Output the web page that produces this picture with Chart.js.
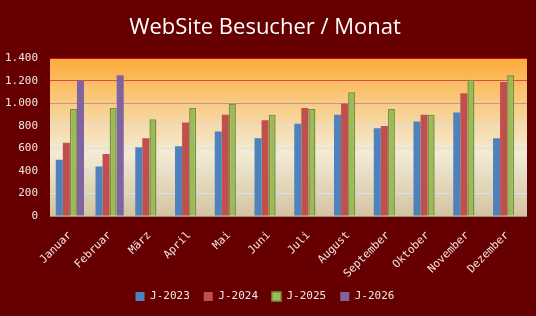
<!DOCTYPE html>
<html>
<head>
<meta charset="utf-8">
<script src="https://cdn.jsdelivr.net/npm/chart.js@4/dist/chart.umd.min.js"></script>
<style>
  html, body { margin: 0; padding: 0; background: #660000; }
  #wrap { width: 536px; height: 316px; }
</style>
</head>
<body>
<div id="wrap"><canvas id="bar-chart"></canvas></div>
<script>
const monate = ["Januar","Februar","März","April","Mai","Juni","Juli","August","September","Oktober","November","Dezember"];
const j2023 = [500,440,610,620,750,690,820,900,780,840,920,690];
const j2024 = [650,550,690,830,900,850,960,1000,800,900,1090,1190];
const j2025 = [950,960,860,960,1000,900,950,1100,950,900,1210,1250];
const j2026 = [1200,1250,null,null,null,null,null,null,null,null,null,null];
const yTicks = [0,200,400,600,800,1000,1200,1400];

const monoFont = "'DejaVu Sans Mono', monospace";

function tausender(v) {
  return String(v).replace(/\B(?=(\d{3})+(?!\d))/g, ".");
}

function gitterFarbe(ctx) {
  const v = ctx.tick ? ctx.tick.value : 0;
  if (v === 1400) return "#c8101c";
  if (v === 1200) return "#d24a52";
  if (v === 1000) return "#c49494";
  if (v === 0) return "#9c8a74";
  return "#d8e0f0";
}

const hintergrund = {
  id: "hintergrund",
  beforeDraw(chart) {
    const {ctx, chartArea: a} = chart;
    ctx.save();
    ctx.fillStyle = "#660000";
    ctx.fillRect(0, 0, chart.width, chart.height);
    const g = ctx.createLinearGradient(0, a.top, 0, a.bottom);
    g.addColorStop(0, "#fdab38");
    g.addColorStop(0.18, "#fbc068");
    g.addColorStop(0.45, "#f6dcae");
    g.addColorStop(0.6, "#f3ebd4");
    g.addColorStop(1, "#d3c3a2");
    ctx.fillStyle = g;
    ctx.fillRect(a.left, a.top, a.right - a.left, a.bottom - a.top);
    ctx.restore();
  }
};

const contenedor = document.querySelector("#bar-chart").getContext("2d");

const chart = new Chart(contenedor, {
  type: "bar",
  data: {
    labels: monate,
    datasets: [
      { label: "J-2023", data: j2023, backgroundColor: "#4f81bd", borderWidth: 0 },
      { label: "J-2024", data: j2024, backgroundColor: "#c0504d", borderWidth: 0 },
      { label: "J-2025", data: j2025, backgroundColor: "#9bbb59", borderColor: "#76923c", borderWidth: 1.5 },
      { label: "J-2026", data: j2026, backgroundColor: "#8064a2", borderWidth: 0 }
    ]
  },
  options: {
    responsive: true,
    maintainAspectRatio: false,
    animation: false,
    layout: { padding: { left: 3, right: 9, top: 4, bottom: 4 } },
    datasets: { bar: { categoryPercentage: 0.71, barPercentage: 1.0 } },
    plugins: {
      title: {
        display: true,
        text: "WebSite Besucher / Monat",
        color: "#ffffff",
        font: { family: "'Open Sans', sans-serif", size: 22, weight: "normal" },
        padding: { top: 11, bottom: 17 }
      },
      legend: {
        position: "bottom",
        labels: {
          color: "#f4e4e4",
          boxWidth: 9,
          boxHeight: 9,
          padding: 14,
          font: { family: monoFont, size: 11 }
        }
      },
      tooltip: { enabled: false }
    },
    scales: {
      x: {
        grid: { display: false, drawTicks: false },
        border: { display: false },
        afterFit(axis) { axis.paddingLeft = 0; axis.height = 61; },
        ticks: {
          color: "#f4e4e4",
          font: { family: monoFont, size: 11 },
          maxRotation: 45,
          minRotation: 45,
          padding: 13
        }
      },
      y: {
        min: 0,
        max: 1400,
        afterBuildTicks(axis) { axis.ticks = yTicks.map(v => ({ value: v })); },
        afterFit(axis) { axis.width = 47; },
        grid: { color: gitterFarbe, lineWidth: 1, drawTicks: false },
        border: { display: false },
        ticks: {
          color: "#f4e4e4",
          font: { family: monoFont, size: 11 },
          padding: 12,
          callback: v => tausender(v)
        }
      }
    }
  },
  plugins: [hintergrund]
});
</script>
</body>
</html>
